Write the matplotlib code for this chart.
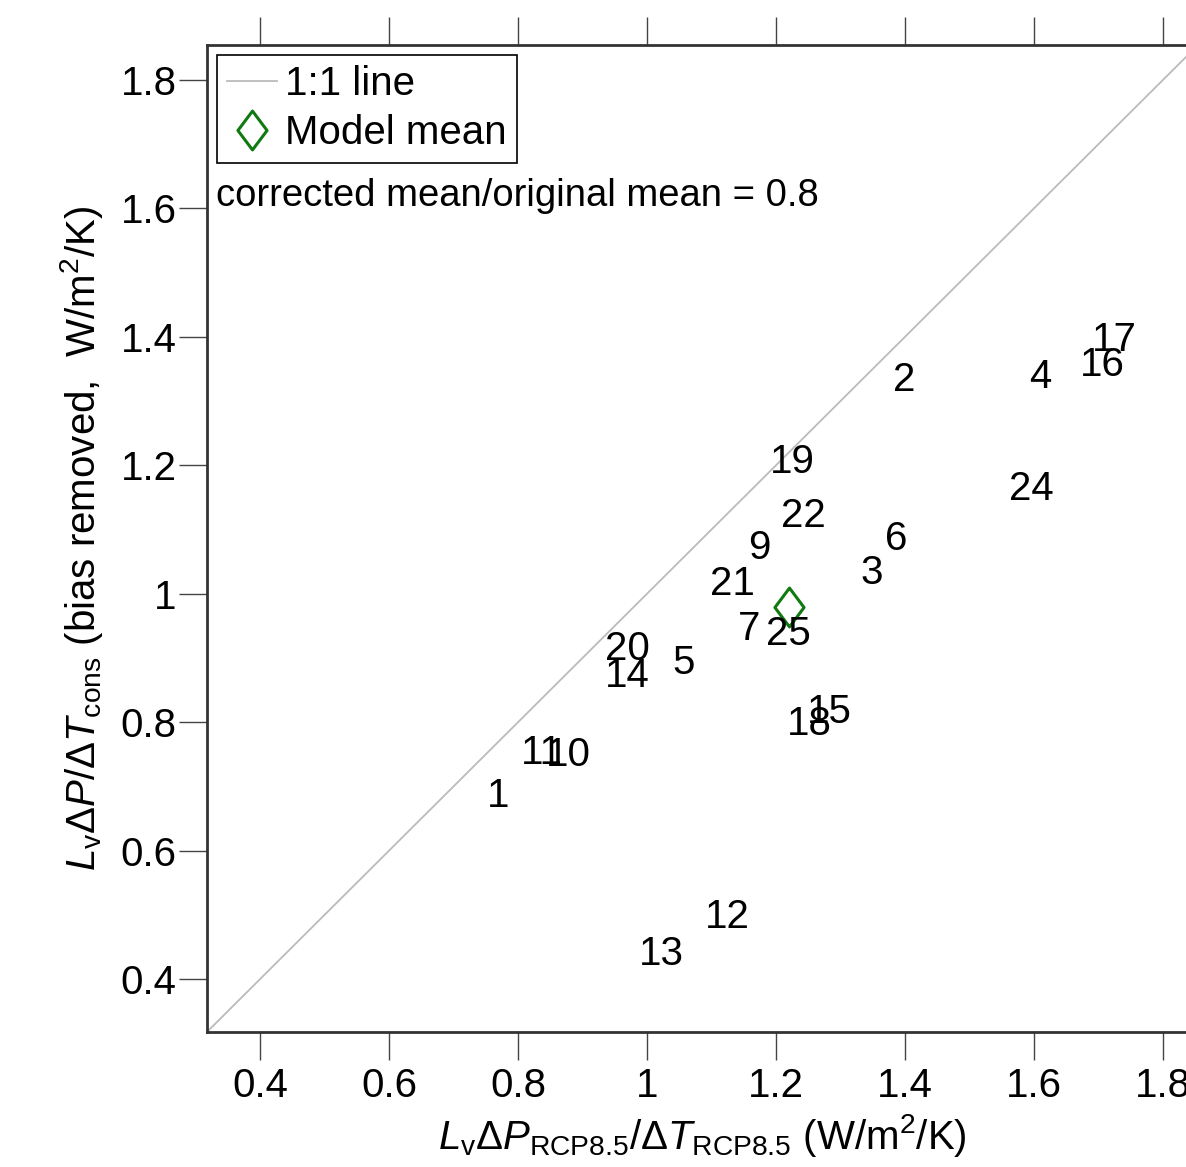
import matplotlib
matplotlib.use('Agg')
import matplotlib.pyplot as plt
from matplotlib.lines import Line2D
from matplotlib.path import Path

plt.rcParams['font.family'] = ['Liberation Sans', 'DejaVu Sans']
plt.rcParams['mathtext.fontset'] = 'custom'
plt.rcParams['mathtext.rm'] = 'Liberation Sans'
plt.rcParams['mathtext.it'] = 'Liberation Sans:italic'

# model numbers and their positions
models = ['1', '2', '3', '4', '5', '6', '7', '9', '10', '11', '12', '13', '14',
          '15', '16', '17', '18', '19', '20', '21', '22', '24', '25']
x_vals = [0.769, 1.398, 1.349, 1.609, 1.057, 1.386, 1.158, 1.174, 0.878, 0.837,
          1.124, 1.023, 0.969, 1.282, 1.705, 1.724, 1.251, 1.225, 0.969, 1.133,
          1.242, 1.595, 1.219]
y_vals = [0.690, 1.337, 1.036, 1.341, 0.897, 1.090, 0.949, 1.076, 0.754, 0.756,
          0.502, 0.443, 0.877, 0.820, 1.361, 1.400, 0.801, 1.210, 0.919, 1.019,
          1.126, 1.168, 0.941]
mean_x, mean_y = 1.220, 0.980
ratio = 0.8

lim = (0.318, 1.854)
ticks = [0.4, 0.6, 0.8, 1.0, 1.2, 1.4, 1.6, 1.8]
ticklabels = ['0.4', '0.6', '0.8', '1', '1.2', '1.4', '1.6', '1.8']

green = '#107a10'
# a diamond that is a bit taller than wide, like the original
diamond = Path([(-0.75, 0), (0, 1), (0.75, 0), (0, -1), (-0.75, 0)],
               [Path.MOVETO, Path.LINETO, Path.LINETO, Path.LINETO, Path.CLOSEPOLY])

fig = plt.figure(figsize=(11.86, 11.67), dpi=100)
ax = fig.add_axes([0.1745, 0.1157, 0.8356, 0.8457])

ax.plot(lim, lim, color='#bbbbbb', lw=1.3, zorder=1)
for m, x, y in zip(models, x_vals, y_vals):
    ax.annotate(m, (x, y), xytext=(0, -2), textcoords='offset points',
                fontsize=29, ha='center', va='center', color='black')
ax.plot(mean_x, mean_y, marker=diamond, ms=28, mfc='none', mec=green, mew=2.2,
        linestyle='none')

ax.set_xlim(lim)
ax.set_ylim(lim)
ax.set_xticks(ticks)
ax.set_xticklabels(ticklabels)
ax.set_yticks(ticks)
ax.set_yticklabels(ticklabels)
ax.tick_params(axis='both', direction='out', length=20, width=1, color='#444444',
               labelsize=29, top=True, right=True)
ax.tick_params(axis='x', pad=5)
ax.tick_params(axis='y', pad=2)
for s in ax.spines.values():
    s.set_linewidth(2)
    s.set_color('#333333')

ax.set_xlabel(r'$L_{\mathrm{v}}\Delta P_{\mathrm{RCP8.5}}/\Delta T_{\mathrm{RCP8.5}}$ (W/m$^2$/K)',
              fontsize=29, labelpad=5)
ax.set_ylabel(r'$L_{\mathrm{v}}\Delta P/\Delta T_{\mathrm{cons}}$ (bias removed,  W/m$^2$/K)',
              fontsize=29, labelpad=11)

handles = [Line2D([], [], color='#bbbbbb', lw=1.3),
           Line2D([], [], marker=diamond, ms=28, mfc='none', mec=green, mew=2.2,
                  linestyle='none')]
leg = ax.legend(handles, ['1:1 line', 'Model mean'], loc='upper left', fontsize=29,
                frameon=True, fancybox=False, edgecolor='black', framealpha=1,
                handlelength=1.25, handletextpad=0.2, borderpad=0.25,
                labelspacing=0.28, borderaxespad=0.25)
leg.get_frame().set_linewidth(1.2)

ax.text(0.009, 0.847, f'corrected mean/original mean = {ratio}', transform=ax.transAxes,
        fontsize=27.5, ha='left', va='center')

fig.savefig('out.png', dpi=100)
